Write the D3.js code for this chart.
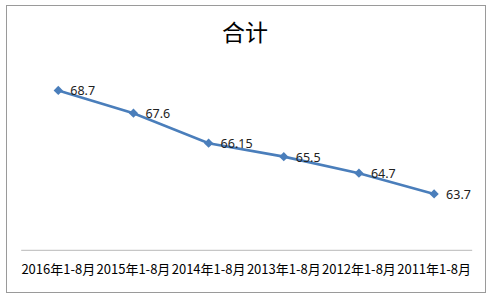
<!DOCTYPE html>
<html>
<head>
<meta charset="utf-8">
<script src="https://cdn.jsdelivr.net/npm/d3@7"></script>
<style>
  body { margin: 0; background: #fff; }
  text { font-family: "Noto Sans CJK SC", "Noto Sans", sans-serif; }
</style>
</head>
<body>
<svg id="chart" width="491" height="299"></svg>
<script>
// chart data
let categories = ['2016年1-8月', '2015年1-8月', '2014年1-8月', '2013年1-8月', '2012年1-8月', '2011年1-8月'];
let totals = [68.7, 67.6, 66.15, 65.5, 64.7, 63.7];
let valueLabels = ['68.7', '67.6', '66.15', '65.5', '64.7', '63.7'];
let chartTitle = '合计';

let svg = d3.select('#chart');

// outer frame
svg.append('rect')
	.attr('x', 6.5)
	.attr('y', 5.5)
	.attr('width', 479)
	.attr('height', 287)
	.attr('fill', '#fff')
	.attr('stroke', '#9a9a9a')
	.attr('stroke-width', 1);

svg.append('text')
	.text(chartTitle)
	.attr('x', 245)
	.attr('y', 41)
	.attr('text-anchor', 'middle')
	.attr('font-size', 23)
	.attr('fill', '#000');

let xScale = d3.scaleBand()
	.domain(categories)
	.range([20.7, 471.7]);

let yScale = d3.scaleLinear()
	.domain([61, 70])
	.range([249.8, 63.5]);

let xAxis = d3.axisBottom(xScale).tickSize(0).tickPadding(15);

let axisG = svg.append('g')
	.attr('transform', 'translate(0, 249.8)')
	.call(xAxis);
axisG.select('.domain').attr('stroke', '#b8b8b8');
axisG.selectAll('text')
	.attr('font-size', 13)
	.attr('fill', '#000')
	.style('font-family', '"Noto Sans CJK SC", sans-serif');

let points = categories.map((c, i) => ({ cat: c, value: totals[i], label: valueLabels[i] }));

let line = d3.line()
	.x((d) => xScale(d.cat) + xScale.bandwidth() / 2)
	.y((d) => yScale(d.value));

svg.append('path')
	.datum(points)
	.attr('d', line)
	.attr('fill', 'none')
	.attr('stroke', '#4A7EBB')
	.attr('stroke-width', 2.6);

svg.selectAll('.marker')
	.data(points)
	.enter()
	.append('path')
	.attr('class', 'marker')
	.attr('d', d3.symbol().type(d3.symbolDiamond2).size(55))
	.attr('transform', (d) => `translate(${xScale(d.cat) + xScale.bandwidth() / 2}, ${yScale(d.value)})`)
	.attr('fill', '#4A7EBB');

svg.selectAll('.vlabel')
	.data(points)
	.enter()
	.append('text')
	.attr('class', 'vlabel')
	.text((d) => d.label)
	.attr('x', (d) => xScale(d.cat) + xScale.bandwidth() / 2 + 12)
	.attr('y', (d) => yScale(d.value) + 5)
	.attr('font-size', 12.5)
	.attr('fill', '#222')
	.style('font-family', '"Noto Sans", sans-serif');
</script>
</body>
</html>
